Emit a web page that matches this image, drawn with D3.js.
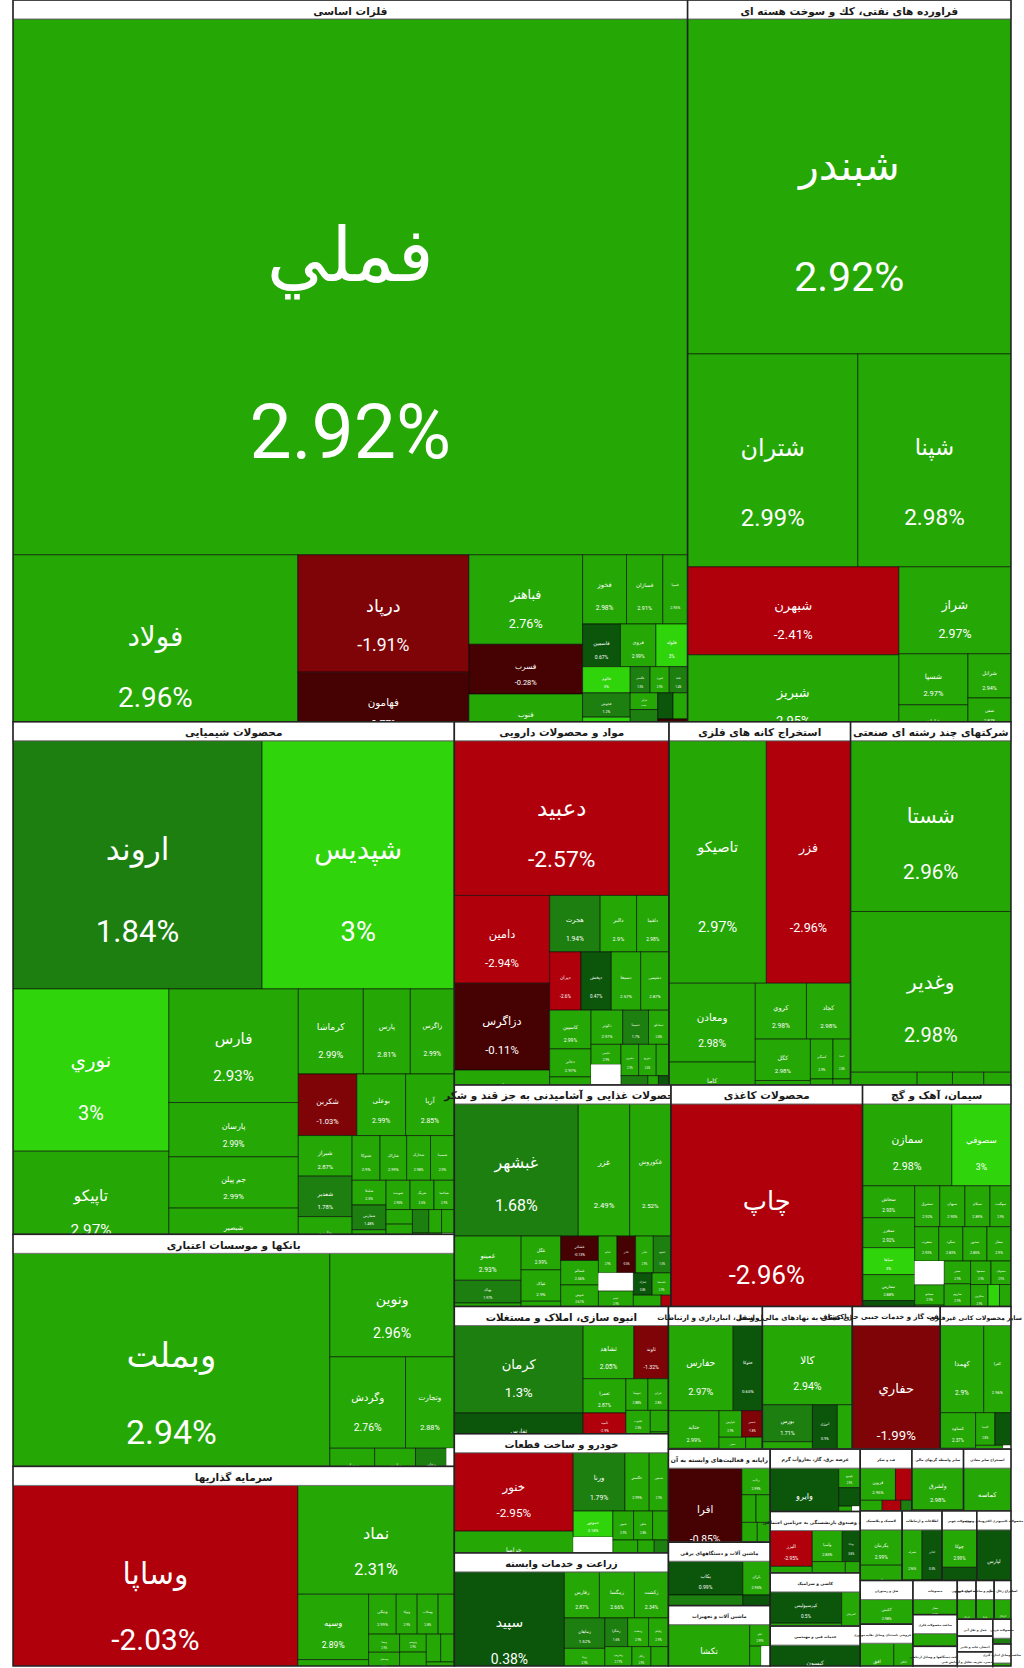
<!DOCTYPE html>
<html>
<head>
<meta charset="utf-8">
<script src="https://cdn.jsdelivr.net/npm/d3@7"></script>
<style>
  html, body { margin: 0; padding: 0; background: #fff; }
  svg { display: block; }
</style>
</head>
<body>
<svg id="map" width="1024" height="1668"></svg>
<script>
// each stock: [symbol, size, change %]   (null change = empty slot)
const basicMetals = [
  ['فملي', 361125, 2.92], ['فولاد', 52921, 2.96], ['درپاد', 20060, -1.91], ['فهامون', 11730, -0.77],
  ['فباهنر', 10170, 2.76], ['فسرب', 5650, -0.28], ['فنوب', 5311, 2.9], ['فخوز', 3036, 2.98],
  ['فسازان', 2508, 2.91], ['فسپا', 1716, 2.95], ['فاسمین', 1612, 0.67], ['فروی', 1508, 2.99],
  ['فلوله', 1352, 3], ['فالوم', 1248, 3], ['فجوش', 1156, 1.2], ['ارفع', 1122, 3],
  ['فگستر', 520, 1.5], ['فنورد', 500, 2.9], ['فاما', 480, 1.4], ['فرآور', 460, 2.8],
  ['فکا', 440, 1.6], ['فجهان', 420, 2.9], ['فمراد', 400, 0.8], ['فپنتا', 380, 2.7],
  ['فافزا', 350, -0.5], ['', 300, null]
];
const petroleum = [
  ['شبندر', 108205, 2.92], ['شتران', 36210, 2.99], ['شپنا', 32589, 2.98], ['شبهرن', 18568, -2.41],
  ['شبریز', 18146, 2.95], ['شراز', 9744, 2.97], ['شسپا', 3519, 2.97], ['شاوان', 2484, 2.9],
  ['شرانل', 1900, 2.94], ['شفن', 1250, 2.82], ['شنفت', 591, 2.5]
];
const chemicals = [
  ['اروند', 61750, 1.84], ['شپدیس', 47671, 3], ['نوري', 25272, 3], ['تاپیکو', 15912, 2.97],
  ['فارس', 14690, 2.93], ['پارسان', 7020, 2.99], ['جم پیلن', 6630, 2.99], ['شبصیر', 5850, 2.9],
  ['کرماشا', 5525, 2.99], ['پارس', 3995, 2.81], ['زاگرس', 3740, 2.99], ['شکربن', 3600, -1.03],
  ['بوعلی', 3000, 2.99], ['آریا', 3000, 2.85], ['شیراز', 2184, 2.87], ['شغدیر', 2175, 1.78],
  ['خارزم', 1976, 2.06], ['شتوکا', 1248, 2.9], ['شاراک', 1189, 2.99], ['شخارک', 1066, 2.98],
  ['شسینا', 1066, 2.9], ['شاملا', 840, 2.5], ['شفارس', 840, 1.48], ['شپترو', 800, 2.9],
  ['شوینده', 700, 2.95], ['شزنگ', 700, 2.6], ['شپاکسا', 595, 2.9], ['شجم', 384, 2.9],
  ['شدوص', 384, 2.8], ['شکلر', 384, 2.9], ['شلعاب', 384, 1.9], ['شصفها', 300, 2.9],
  ['شرنگی', 300, 2.7], ['شنیرو', 300, 2.9], ['شسم', 300, -1.2], ['', 250, null]
];
const banks = [
  ['وبملت', 73458, 2.94], ['ونوين', 12875, 2.96], ['وگردش', 6916, 2.76], ['وتجارت', 4459, 2.88],
  ['وبصادر', 1665, 2.9], ['وپارس', 1517, 2.9], ['وخاور', 1147, 1.6], ['', 296, null]
];
const investments = [
  ['وساپا', 56800, -2.03], ['نماد', 17013, 2.31], ['وسپه', 4623, 2.89], ['وبوعلی', 1794, 2.9],
  ['ونیکی', 1102, 2.99], ['وتوکا', 836, 2.9], ['وسکاب', 836, 2.8], ['وصنا', 646, 2.9],
  ['وپسا', 560, 2.9], ['وسبحان', 520, 2.8], ['واتی', 494, 1.6], ['وتوسم', 480, 2.9],
  ['ولساپا', 440, 2.9], ['وکار', 437, -1.2], ['وآتوس', 400, 2.9], ['وکغدیر', 380, 2.8],
  ['وسینا', 345, 2.9], ['', 300, null]
];
const pharma = [
  ['دعبید', 33170, -2.57], ['دامین', 8360, -2.94], ['دزاگرس', 8265, -0.11], ['دارو', 3230, 2.9],
  ['هجرت', 2850, 1.94], ['دالبر', 2052, 2.9], ['دلقما', 1829, 2.98], ['دیران', 1824, -2.6],
  ['دپخش', 1770, 0.47], ['دسبحا', 1711, 2.57], ['دشیمی', 1652, 2.87], ['کاسپین', 1600, 2.99],
  ['دجابر', 1160, 2.97], ['دتماد', 1120, 2.75], ['دکوثر', 1080, 2.97], ['دسینا', 880, 1.7],
  ['دسانکو', 700, 2.8], ['دکیمی', 600, 2.9], ['دفارا', 580, 2.99], ['دشیری', 553, 2.9],
  ['دتوزیع', 550, 2.6], ['دلر', 400, 2.9], ['داسوه', 380, 1.2], ['دزهراوی', 380, 1.4],
  ['درازک', 300, 2.9], ['دفرا', 300, 0.8], ['', 600, null]
];
const mining = [
  ['تاصیکو', 23571, 2.97], ['فزر', 20412, -2.96], ['ومعادن', 6794, 2.98], ['کاما', 3612, 2.9],
  ['کروي', 2856, 2.98], ['کچاد', 2464, 2.98], ['کگل', 2280, 2.98], ['کفلو', 1292, 2.87],
  ['کمنگنز', 900, 2.9], ['کدما', 700, 2.8], ['کسرا', 560, 2.9], ['کبافق', 443, 2.7]
];
const holdings = [
  ['شستا', 27360, 2.96], ['وغدیر', 25760, 2.98], ['واميد', 2112, 2.9], ['وصندوق', 1120, 2.9],
  ['وپخش', 992, 2.88], ['ونیرو', 864, 2.9]
];
const food = [
  ['غبشهر', 16359, 1.68], ['غزر', 6783, 2.49], ['غکوروش', 5453, 2.52], ['غمینو', 2950, 2.93],
  ['بهپاک', 1518, 1.97], ['غالبر', 1500, 2.9], ['غگل', 1334, 2.99], ['غپاک', 1242, 2.9],
  ['غدیس', 960, 2.88], ['غشاذر', 920, -0.13], ['غسالم', 920, 2.56], ['غنوش', 828, 2.61],
  ['غگرجی', 700, 2.8], ['غدام', 684, 2.9], ['غاذر', 684, -0.5], ['غپآذر', 650, 2.9],
  ['غشهد', 650, 1.5], ['غپینو', 612, 2.9], ['غفارس', 595, 2.9], ['غمارگ', 420, 0.8],
  ['غشصفا', 420, 2.9], ['غصینو', 420, 2.8], ['غبهنوش', 420, 0.9], ['غچین', 300, -2.5],
  ['', 630, null]
];
const paper = [['چاپ', 42402, -2.96]];
const cement = [
  ['سمازن', 7298, 2.98], ['سصوفي', 4838, 3], ['سخاش', 1664, 2.93], ['سخزر', 1560, 2.92],
  ['سپاها', 1404, 3], ['سفارس', 1352, 2.88], ['سدشت', 1300, 0.8], ['سشرق', 1025, 2.92],
  ['سبهان', 1025, 2.93], ['سیلام', 1025, 2.89], ['سهگمت', 861, 2.9], ['سغرب', 825, 2.93],
  ['سکرد', 825, 2.83], ['سدور', 825, 2.85], ['سفار', 825, 2.9], ['سبجنو', 600, 2.9],
  ['سهرمز', 600, 2.8], ['سنیر', 600, 2.9], ['ساروم', 600, 2.9], ['سجام', 500, 2.9],
  ['سصفها', 480, 2.9], ['سخواف', 470, 2.9], ['سکارون', 454, 2.9], ['سقاین', 300, 3],
  ['سفانو', 300, 2.9], ['سخوز', 300, 2.9], ['ساربیل', 300, 2.9], ['', 700, null]
];
const realEstate = [
  ['كرمان', 11266, 1.3], ['ثفارس', 5109, 0.6], ['ثشاهد', 2700, 2.05], ['ثاوند', 1836, -1.32],
  ['ثعمرا', 1457, 2.87], ['ثامید', 1000, -2.9], ['ثمسکن', 700, 2.9], ['ثنوسا', 696, 2.88],
  ['ثتران', 650, 2.8], ['ثجنوب', 574, 2.5], ['', 460, null], ['ثالوند', 391, 2.9], ['ثباغ', 377, 2.9]
];
const auto = [
  ['خنور', 9317, -2.95], ['خزامیا', 4840, 2.9], ['ورنا', 3009, 1.79], ['خگستر', 1416, 2.99],
  ['خمحور', 1121, 2.9], ['خموتور', 1023, 3.18], ['', 760, null], ['خودرو', 621, 1.46],
  ['خمهر', 600, 2.9], ['خاهن', 550, 2.8], ['خساپا', 459, 2.37], ['خشرق', 400, 2.9],
  ['خکار', 392, 2.9], ['خفنر', 300, 2.9], ['خچرخش', 258, 1.5], ['خلنت', 255, 2.9], ['خریخت', 168, 1.2]
];
const farming = [
  ['سپید', 12432, 0.38], ['زفارس', 1610, 2.87], ['زمگسا', 1610, 2.66], ['زکشت', 1564, 2.34],
  ['زماهان', 1230, 1.52], ['زبینا', 780, 2.9], ['زپارس', 700, 2.9], ['زشگزا', 656, 1.6],
  ['زدشت', 600, 2.9], ['زقیام', 570, 2.9], ['زشریف', 540, 2.77], ['زکوثر', 500, 2.8],
  ['زنگان', 416, 2.9], ['زبرکت', 384, 2.9], ['زگلدشت', 300, 2.9], ['زملارد', 300, 1.6]
];
const transport = [
  ['حفارس', 5504, 2.97], ['حتوكا', 2494, 0.65], ['حتاید', 1904, 2.99], ['حسینا', 1000, -2.1],
  ['حپارس', 600, 2.9], ['حسیر', 550, -1.8], ['حخزر', 447, 2.8], ['حریل', 375, 3],
  ['حکشتی', 350, 2.9], ['حآسا', 168, -0.5]
];
const finServices = [
  ['کالا', 7120, 2.94], ['بورس', 1848, 1.71], ['فرابورس', 1320, 2.6], ['انرژی', 1100, 0.9],
  ['اوراق', 663, 2.7], ['نیرو', 600, 2.9], ['تمحور', 165, 2.8]
];
const drilling = [['حفاري', 12528, -1.99]];
const minerals = [
  ['کهمدا', 3784, 2.9], ['کفرا', 2376, 2.96], ['کساوه', 1258, 2.37], ['کسعدی', 700, 2.9],
  ['کاسپا', 630, 2.8], ['کثالث', 525, 0.65], ['کرازی', 375, 2.9], ['کلوند', 252, 2.9], ['', 180, null]
];
const computers = [
  ['افرا', 6825, -0.85], ['رتاپ', 754, 2.99], ['تاپکیش', 392, 2.9], ['رانفور', 392, 2.9],
  ['مفاخر', 300, 2.9], ['سیستم', 251, 2.8], ['سپ', 210, 2.9], ['فناوا', 210, 2.8], ['', 130, null]
];
const electrical = [['بکاب', 2508, 0.99], ['بموتو', 2204, 1.5], ['باران', 924, 2.95], ['بنیرو', 638, 0.8], ['', 174, null]];
const machinery = [['تکشا', 4897, 2.99], ['تپکو', 441, 2.99], ['تجهیز', 320, 2.9], ['', 250, null], ['تمحرکه', 228, 3]];
const utilities = [['وایرو', 4270, 0.63], ['بکهنوج', 420, 2.9], ['بزاگرس', 399, 0.68], ['بتک', 323, 2.9], ['', 200, null]];
const insurance = [
  ['البرز', 1505, -2.95], ['ومعلم', 1075, 2.9], ['وآسیا', 930, 2.85], ['ودانا', 558, 0.8],
  ['وتعاون', 500, 2.9], ['', 500, null], ['وکوثر', 452, 2.8]
];
const tiles = [['کپرسپولیس', 2236, 0.5], ['کاذر', 1560, 2.95], ['کمرجان', 936, 2.99], ['', 52, null]];
const engineering = [['کیسون', 3588, 0.9]];
const sugar = [
  ['قزوین', 1131, 2.95], ['قهکمت', 528, -2.2], ['قچار', 348, 2.9], ['قمرو', 300, 2.9],
  ['قشکر', 290, -2.5], ['قثابت', 264, 2.9], ['قنیشا', 180, 1.5], ['قلرست', 144, 2.9]
];
const otherFinance = [['ولشرق', 2145, 2.98], ['ولکار', 1040, 2.9]];
const otherMining = [['کماسه', 2925, 2.98]];
const rubber = [['پکرمان', 1480, 2.99], ['پتایر', 1440, 2.96]];
const telecom = [['همراه', 1000, 2.96], ['اخابر', 1000, 0.5], ['اعتلا', 774, 0.3]];
const wood = [['چوکا', 1300, 2.99], ['چدشت', 1120, 0.8]];
const electronics = [['لپارس', 2380, 0]];
const hotels = [['گکیش', 1300, 2.98], ['گپارس', 1000, 2.6]];
const retail = [['افق', 1400, 2.9], ['اتکای', 800, 2.9]];
const textiles = [['نساز', 900, 2.9], ['نطرین', 612, 2.8]];
const metalProducts = [['فلامی', 1404, 2.8]];
const commDevices = [['لابسا', 500, -2.5], ['لخزر', 370, 2.9]];
const wholesale = [['اترک', 725, 2.9]];
const leather = [['پارتا', 700, 2.95]];
const coal = [['کزغال', 650, 2.9]];
const shipping = [['لسرما', 600, 2.9]];
const printing = [['چکاپا', 560, 2.8]];
const testing = [['رنیک', 500, 2.9]];
const leatherGoods = [['بشهاب', 450, 1.8]];
const instruments = [['لوتوس', 399, 2.9]];

const sectorNames = [
  'فلزات اساسی', 'فراورده های نفتی، کك و سوخت هسته ای', 'محصولات شیمیایی', 'بانکها و موسسات اعتباری',
  'سرمایه گذاریها', 'مواد و محصولات دارویی', 'استخراج کانه های فلزی', 'شرکتهای چند رشته ای صنعتی',
  'محصولات غذایی و آشامیدنی به جز قند و شکر', 'محصولات کاغذی', 'سیمان، آهک و گچ', 'انبوه سازی، املاک و مستغلات',
  'خودرو و ساخت قطعات', 'زراعت و خدمات وابسته', 'حمل ونقل، انبارداری و ارتباطات', 'فعالیتهای کمکی به نهادهای مالی واسط',
  'استخراج نفت گاز و خدمات جنبی جز اکتشاف', 'سایر محصولات کانی غیرفلزی', 'رایانه و فعالیت‌های وابسته به آن',
  'ماشین آلات و دستگاههای برقی', 'ماشین آلات و تجهیزات', 'عرضه برق، گاز، بخاروآب گرم',
  'بیمه وصندوق بازنشستگی به جزتامین اجتماعی', 'کاشی و سرامیک', 'خدمات فنی و مهندسی', 'قند و شکر',
  'سایر واسطه گریهای مالی', 'استخراج سایر معادن', 'لاستیک و پلاستیک', 'اطلاعات و ارتباطات',
  'محصولات چوبی', 'محصولات کامپیوتری الکترونیکی ونوری', 'هتل و رستوران', 'خرده فروشی باستثنای وسایل نقلیه موتوری',
  'منسوجات', 'ساخت محصولات فلزی', 'ساخت دستگاهها و وسایل ارتباطی', 'تجارت عمده فروشی',
  'دباغی، پرداخت چرم و ساخت انواع پاپوش', 'استخراج زغال سنگ', 'حمل و نقل آبی', 'انتشار، چاپ و تکثیر',
  'فعالیت مهندسی، تجزیه، تحلیل و آزمایش فنی', 'محصولات چرمی', 'ساخت وسایل اندازه گیری'
];
const sectorStocks = [
  basicMetals, petroleum, chemicals, banks, investments, pharma, mining, holdings,
  food, paper, cement, realEstate, auto, farming, transport, finServices,
  drilling, minerals, computers, electrical, machinery, utilities, insurance, tiles,
  engineering, sugar, otherFinance, otherMining, rubber, telecom, wood, electronics,
  hotels, retail, textiles, metalProducts, commDevices, wholesale, leather, coal,
  shipping, printing, testing, leatherGoods, instruments
];

const width = 998, height = 1666, left = 13, headH = 19;

function color(p) {
    if (p === null) return '#ffffff';
    if (p >= 3) return '#2fd40b';
    if (p >= 2) return '#25a706';
    if (p >= 1) return '#1d7f10';
    if (p >= 0) return '#0b560b';
    if (p > -1) return '#460202';
    if (p > -2) return '#7e0407';
    return '#b0000b';
}

const root = d3.hierarchy({
        children: sectorNames.map((name, i) => ({
            name: name,
            children: sectorStocks[i].map(s => ({ name: s[0], size: s[1], pct: s[2] }))
        }))
    })
    .sum(d => d.size || 0)
    .sort((a, b) => b.value - a.value);

d3.treemap()
    .size([width, height])
    .tile(d3.treemapSquarify)
    .round(false)(root);

const svg = d3.select('#map');
svg.append('rect').attr('width', 1024).attr('height', 1668).attr('fill', '#fff');
const plot = svg.append('g').attr('transform', 'translate(' + left + ',0)');

root.children.forEach((grp, i) => {
    const gw = grp.x1 - grp.x0, gh = grp.y1 - grp.y0;
    const g = plot.append('g');

    // children are laid out in the full sector box, pushed down under the header and clipped
    g.append('clipPath').attr('id', 'clip' + i)
        .append('rect')
        .attr('x', grp.x0).attr('y', grp.y0)
        .attr('width', gw).attr('height', gh);

    const cells = g.append('g')
        .attr('clip-path', 'url(#clip' + i + ')')
        .selectAll('g')
        .data(grp.children)
        .join('g')
        .attr('transform', d => 'translate(' + d.x0 + ',' + (d.y0 + headH) + ')');

    cells.append('rect')
        .attr('width', d => d.x1 - d.x0)
        .attr('height', d => d.y1 - d.y0)
        .attr('fill', d => color(d.data.pct))
        .attr('stroke', d => d.data.pct === null ? 'none' : 'rgba(0,0,0,0.55)')
        .attr('stroke-width', 1);

    cells.filter(d => d.data.pct !== null).each(function(d) {
        const w = d.x1 - d.x0, h = d.y1 - d.y0;
        const f = Math.min(0.125 * Math.sqrt(w * h), 0.15 * Math.min(w, h));
        if (f < 2.5) return;
        const cell = d3.select(this);
        cell.append('text')
            .attr('x', w / 2).attr('y', h * 0.44)
            .attr('font-size', f)
            .text(d.data.name);
        cell.append('text')
            .attr('x', w / 2).attr('y', h * 0.77)
            .attr('font-size', f)
            .text(d.data.pct + '%');
    });
    cells.selectAll('text')
        .attr('fill', '#fff')
        .attr('text-anchor', 'middle')
        .attr('dominant-baseline', 'central')
        .attr('font-family', "Roboto, 'DejaVu Sans', sans-serif");

    // sector header
    g.append('rect')
        .attr('x', grp.x0).attr('y', grp.y0)
        .attr('width', gw).attr('height', headH)
        .attr('fill', '#fff')
        .attr('stroke', '#777')
        .attr('stroke-width', 1);

    const hf = Math.max(3, Math.min(10.5, Math.sqrt(gw * gh) / 16));
    g.append('text')
        .attr('x', grp.x0 + gw / 2)
        .attr('y', grp.y0 + headH / 2 + 1)
        .attr('text-anchor', 'middle')
        .attr('dominant-baseline', 'central')
        .attr('font-family', "'DejaVu Sans', sans-serif")
        .attr('font-weight', 'bold')
        .attr('font-size', hf)
        .attr('fill', '#1a1a1a')
        .text(grp.data.name);

    g.append('rect')
        .attr('x', grp.x0).attr('y', grp.y0)
        .attr('width', gw).attr('height', gh)
        .attr('fill', 'none')
        .attr('stroke', '#222')
        .attr('stroke-width', 1.5);
});
</script>
</body>
</html>
